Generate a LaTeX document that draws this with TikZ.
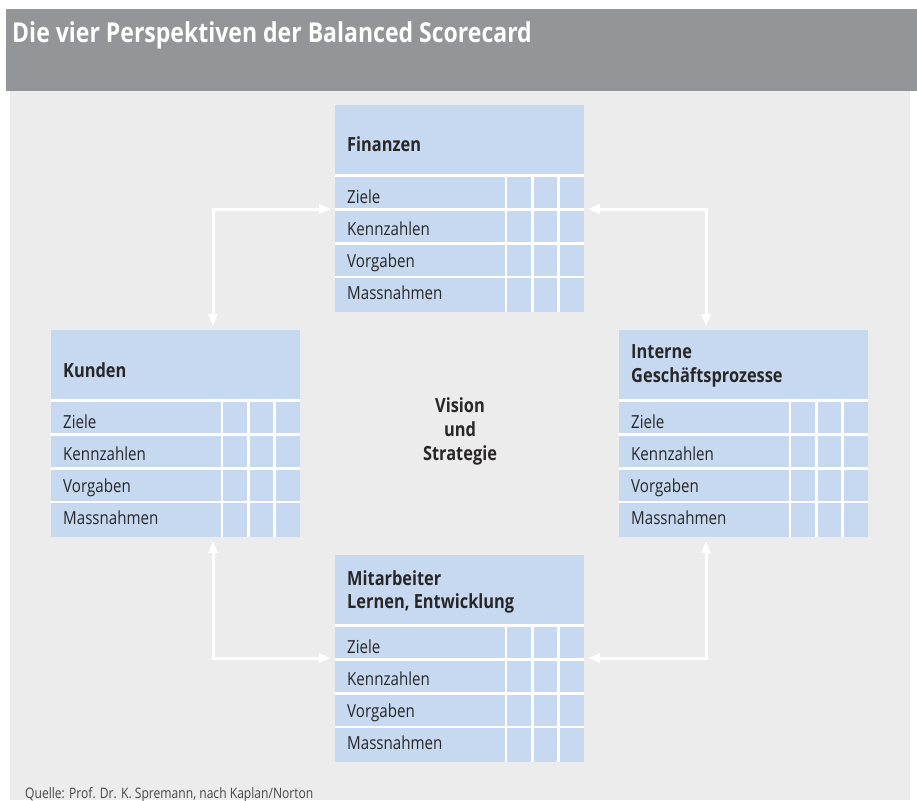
\documentclass[tikz,border=0pt]{standalone}
\usepackage{fontspec}
\setmainfont{Open Sans}[FakeStretch=0.84]
\usetikzlibrary{arrows.meta}

\definecolor{headgray}{RGB}{147,149,152}
\definecolor{bggray}{RGB}{236,236,236}
\definecolor{cellblue}{RGB}{198,217,240}
\definecolor{inkdark}{RGB}{40,38,38}

\tikzset{
  cardbox/.style={fill=cellblue, draw=none, minimum width=249pt, minimum height=207pt,
    inner sep=0pt, outer sep=0pt, anchor=north west},
  gridline/.style={draw=white, line width=2.6pt},
  cardtitle/.style={anchor=base west, inner sep=0pt, text=inkdark,
    font=\fontsize{19.5}{24}\selectfont\bfseries},
  rowlabel/.style={anchor=base west, inner sep=0pt, text=inkdark,
    font=\fontsize{18}{22}\selectfont},
  flow/.style={draw=white, line width=3pt, {Triangle[length=12pt,width=9pt]}-{Triangle[length=12pt,width=9pt]},
    shorten <=4pt, shorten >=4pt},
}

% one perspective card: name, north-west corner
\newcommand\scorecardbox[2]{%
  \node[cardbox] (#1) at #2 {};
  \foreach \dy in {70.5,104.5,138.5,172}
    \draw[gridline] ([yshift=-\dy pt]#1.north west) -- ([yshift=-\dy pt]#1.north east);
  \foreach \dx in {171,197.5,223.5}
    \draw[gridline] ([xshift=\dx pt, yshift=-72pt]#1.north west) -- ([xshift=\dx pt]#1.south west);
  \node[rowlabel] (#1-ziele) at ([xshift=12pt, yshift=-98pt]#1.north west) {Ziele};
  \node[rowlabel] (#1-kennz) at ([xshift=12pt, yshift=-130pt]#1.north west) {Kennzahlen};
  \node[rowlabel] (#1-vorg)  at ([xshift=12pt, yshift=-162pt]#1.north west) {Vorgaben};
  \node[rowlabel] (#1-mass)  at ([xshift=12pt, yshift=-194pt]#1.north west) {Massnahmen};
}

\begin{document}
\begin{tikzpicture}[x=1pt, y=-1pt]
  \useasboundingbox (0,0) rectangle (917,800);
  \fill[white] (0,0) rectangle (917,800);

  % background panel and title band
  \fill[bggray] (10,91) rectangle (910,800);
  \fill[headgray] (6,9) rectangle (917,91);
  \node[anchor=base west, inner sep=0pt, text=white,
        font=\fontsize{27.4}{32}\selectfont\bfseries] (title) at (12,43)
        {Die vier Perspektiven der Balanced Scorecard};

  % the four perspectives
  \scorecardbox{finanzen}{(335,105)}
  \scorecardbox{kunden}{(51,330)}
  \scorecardbox{interne}{(619,330)}
  \scorecardbox{mitarbeiter}{(335,555)}

  \node[cardtitle] (finanzen-t) at ([xshift=12pt, yshift=-46pt]finanzen.north west) {Finanzen};
  \node[cardtitle] (kunden-t) at ([xshift=12pt, yshift=-47pt]kunden.north west) {Kunden};
  \node[cardtitle] (interne-t1) at ([xshift=12pt, yshift=-28pt]interne.north west) {Interne};
  \node[cardtitle] (interne-t2) at ([xshift=12pt, yshift=-52pt]interne.north west) {Geschäftsprozesse};
  \node[cardtitle] (mitarbeiter-t1) at ([xshift=12pt, yshift=-30pt]mitarbeiter.north west) {Mitarbeiter};
  \node[cardtitle] (mitarbeiter-t2) at ([xshift=12pt, yshift=-53pt]mitarbeiter.north west) {Lernen, Entwicklung};

  % centre
  \node[align=center, inner sep=0pt, text=inkdark,
        font=\fontsize{19.5}{24}\selectfont\bfseries] (vision) at (460,431)
        {Vision\\und\\Strategie};

  % corner points of the connectors
  \coordinate (cTL) at (213,209);
  \coordinate (cTR) at (706,209);
  \coordinate (cBL) at (213,658);
  \coordinate (cBR) at (706,658);

  \draw[flow] (kunden.north -| cTL) |- (finanzen.west |- cTL);
  \draw[flow] (finanzen.east |- cTR) -| (interne.north -| cTR);
  \draw[flow] (kunden.south -| cBL) |- (mitarbeiter.west |- cBL);
  \draw[flow] (mitarbeiter.east |- cBR) -| (interne.south -| cBR);

  % source line
  \node[anchor=base west, inner sep=0pt, text=inkdark!85,
        font=\fontsize{14.4}{16}\selectfont] (source) at (25,798)
        {Quelle: Prof. Dr. K. Spremann, nach Kaplan/Norton};
\end{tikzpicture}
\end{document}
